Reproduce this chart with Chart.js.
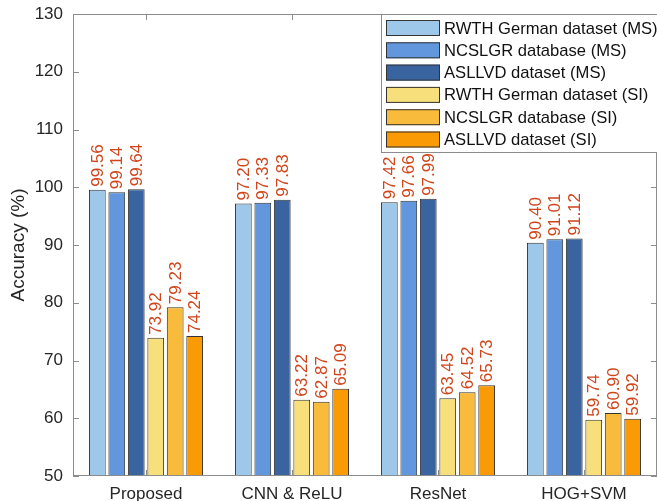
<!DOCTYPE html>
<html>
<head>
<meta charset="utf-8">
<script src="https://cdn.jsdelivr.net/npm/chart.js@4.4.1/dist/chart.umd.min.js"></script>
<style>
  html, body { margin: 0; padding: 0; background: #fff; }
  #wrap { width: 657px; height: 501px; }
</style>
</head>
<body>
<div id="wrap"><canvas id="accChart"></canvas></div>
<script>
var methods = ["Proposed", "CNN & ReLU", "ResNet", "HOG+SVM"];
var seriesNames = ["RWTH German dataset (MS)", "NCSLGR database (MS)", "ASLLVD dataset (MS)",
                   "RWTH German dataset (SI)", "NCSLGR database (SI)", "ASLLVD dataset (SI)"];
var rwthMS   = [99.56, 97.20, 97.42, 90.40];
var ncslgrMS = [99.14, 97.33, 97.66, 91.01];
var asllvdMS = [99.64, 97.83, 97.99, 91.12];
var rwthSI   = [73.92, 63.22, 63.45, 59.74];
var ncslgrSI = [79.23, 62.87, 64.52, 60.90];
var asllvdSI = [74.24, 65.09, 65.73, 59.92];
var yTicks = [50, 60, 70, 80, 90, 100, 110, 120, 130];

var seriesValues = [rwthMS, ncslgrMS, asllvdMS, rwthSI, ncslgrSI, asllvdSI];
var colors = ["#9DC8EA", "#6297DE", "#3A64A0", "#F7DF7B", "#F9BB3C", "#FA9A05"];

var datasets = seriesValues.map(function(vals, i){
  return {
    label: seriesNames[i],
    data: vals,
    backgroundColor: colors[i],
    borderColor: "#333333",
    borderWidth: 1,
    borderSkipped: "bottom",
    categoryPercentage: 0.8,
    barPercentage: 0.86
  };
});

var frameColor = "#8c8c8c";
var fontFam = "'Liberation Sans', Arial, sans-serif";

var decorations = {
  id: "decorations",
  afterDraw: function(chart){
    var ctx = chart.ctx;
    var a = chart.chartArea;
    var yScale = chart.scales.y;
    var xScale = chart.scales.x;

    // frame box
    ctx.save();
    ctx.strokeStyle = frameColor;
    ctx.lineWidth = 1;
    ctx.strokeRect(a.left + 0.5, a.top + 0.5, a.right - a.left - 1, a.bottom - a.top - 1);

    // inward ticks
    yTicks.forEach(function(t){
      var y = Math.round(yScale.getPixelForValue(t)) + 0.5;
      ctx.beginPath();
      ctx.moveTo(a.left, y); ctx.lineTo(a.left + 6, y);
      ctx.moveTo(a.right, y); ctx.lineTo(a.right - 6, y);
      ctx.stroke();
    });
    methods.forEach(function(m, i){
      var x = Math.round(xScale.getPixelForValue(i)) + 0.5;
      ctx.beginPath();
      ctx.moveTo(x, a.top); ctx.lineTo(x, a.top + 6);
      ctx.moveTo(x, a.bottom); ctx.lineTo(x, a.bottom - 6);
      ctx.stroke();
    });

    // y axis title
    ctx.fillStyle = "#262626";
    ctx.font = "19px " + fontFam;
    ctx.translate(19, 245);
    ctx.rotate(-Math.PI / 2);
    ctx.textAlign = "center";
    ctx.textBaseline = "middle";
    ctx.fillText("Accuracy (%)", 0, 0);
    ctx.restore();

    // value labels
    ctx.save();
    ctx.fillStyle = "#D0451C";
    ctx.font = "17px " + fontFam;
    ctx.textAlign = "left";
    ctx.textBaseline = "middle";
    chart.data.datasets.forEach(function(ds, di){
      var meta = chart.getDatasetMeta(di);
      meta.data.forEach(function(bar, j){
        ctx.save();
        ctx.translate(bar.x + 1, bar.y - 3);
        ctx.rotate(-Math.PI / 2);
        ctx.fillText(ds.data[j].toFixed(2), 0, 0);
        ctx.restore();
      });
    });
    ctx.restore();

    // legend
    ctx.save();
    var lx = 381, ly = 14, lw = 290, lh = 138;
    ctx.fillStyle = "#ffffff";
    ctx.fillRect(lx, ly, lw, lh);
    ctx.strokeStyle = frameColor;
    ctx.strokeRect(lx + 0.5, ly + 0.5, lw, lh);
    ctx.font = "16.6px " + fontFam;
    ctx.textBaseline = "middle";
    ctx.textAlign = "left";
    seriesNames.forEach(function(name, i){
      var cy = ly + 14 + i * 22.3;
      ctx.fillStyle = colors[i];
      ctx.fillRect(386, cy - 8, 54, 16);
      ctx.strokeStyle = "#333333";
      ctx.strokeRect(386.5, cy - 7.5, 53, 15);
      ctx.fillStyle = "#111111";
      ctx.fillText(name, 444, cy + 1);
    });
    ctx.restore();
  }
};

new Chart(document.getElementById("accChart"), {
  type: "bar",
  data: { labels: methods, datasets: datasets },
  options: {
    responsive: true,
    maintainAspectRatio: false,
    animation: false,
    layout: { padding: { top: 14, right: 0, left: 0, bottom: 0 } },
    plugins: { legend: { display: false }, tooltip: { enabled: false } },
    scales: {
      x: {
        grid: { display: false, drawTicks: false },
        border: { display: false },
        ticks: { color: "#262626", font: { family: fontFam, size: 17 }, padding: 8 },
        afterFit: function(scale){ scale.height = 25; scale.paddingLeft = 0; scale.paddingRight = 0; }
      },
      y: {
        min: 50, max: 130,
        grid: { display: false, drawTicks: false },
        border: { display: false },
        ticks: { stepSize: 10, color: "#262626", font: { family: fontFam, size: 17 }, padding: 10 },
        afterFit: function(scale){ scale.width = 73; scale.paddingTop = 0; scale.paddingBottom = 0; }
      }
    }
  },
  plugins: [decorations]
});
</script>
</body>
</html>
